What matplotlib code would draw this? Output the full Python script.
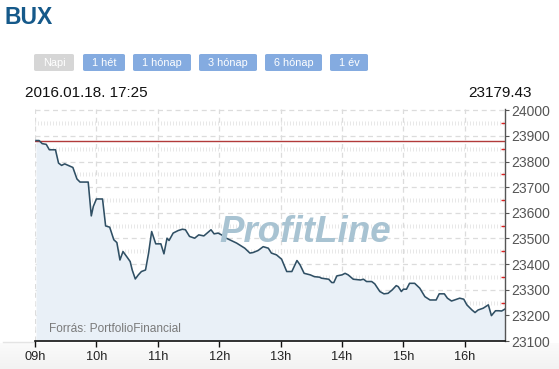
import numpy as np
import matplotlib
matplotlib.use("Agg")
import matplotlib.pyplot as plt
from matplotlib.patches import FancyBboxPatch

plt.rcParams['font.family'] = ['Liberation Sans', 'DejaVu Sans']

# ---- data ----
title = "BUX"
buttons = ["Napi", "1 hét", "1 hónap", "3 hónap", "6 hónap", "1 év"]
timestamp = "2016.01.18. 17:25"
last_value = "23179.43"
source = "Forrás: PortfolioFinancial"
watermark = "ProfitLine"
prev_close = 23882

# minutes after 09:00
minutes = [1, 4, 7, 11, 14, 20, 23, 26, 29, 33, 37, 41, 44, 52, 55, 57, 60, 66, 69, 73,
           77, 80, 83, 86, 90, 93, 95, 98, 101, 104, 108, 111, 114, 118, 123, 126, 129,
           131, 135, 140, 144, 147, 151, 156, 160, 165, 172, 175, 179, 185, 187, 197,
           205, 210, 213, 218, 223, 228, 231, 236, 241, 246, 251, 256, 259, 263, 269,
           273, 278, 280, 287, 290, 292, 295, 300, 303, 306, 311, 318, 321, 324, 329,
           332, 337, 341, 345, 349, 353, 355, 358, 360, 363, 366, 371, 376, 381, 386,
           392, 395, 400, 403, 407, 410, 415, 419, 422, 427, 430, 433, 438, 443, 446,
           450, 453, 456, 459]
values = [23882, 23882, 23870, 23867, 23846, 23846, 23794, 23785, 23791, 23784, 23777,
          23732, 23720, 23720, 23588, 23625, 23654, 23654, 23549, 23544, 23495, 23484,
          23416, 23449, 23427, 23410, 23377, 23342, 23358, 23371, 23377, 23443, 23527,
          23479, 23479, 23440, 23501, 23492, 23521, 23531, 23536, 23534, 23508, 23501,
          23514, 23510, 23534, 23518, 23521, 23508, 23501, 23482, 23462, 23443, 23445,
          23453, 23468, 23462, 23443, 23436, 23419, 23371, 23371, 23414, 23397, 23364,
          23358, 23351, 23349, 23345, 23341, 23328, 23328, 23354, 23358, 23364, 23358,
          23341, 23338, 23341, 23332, 23332, 23323, 23293, 23284, 23286, 23299, 23316,
          23312, 23293, 23302, 23302, 23325, 23325, 23306, 23273, 23260, 23260, 23284,
          23284, 23267, 23256, 23260, 23267, 23263, 23241, 23221, 23211, 23221, 23228,
          23241, 23199, 23218, 23218, 23217, 23224]
hour_ticks = [9, 10, 11, 12, 13, 14, 15, 16]
hour_labels = ["09h", "10h", "11h", "12h", "13h", "14h", "15h", "16h"]
y_ticks = [23100, 23200, 23300, 23400, 23500, 23600, 23700, 23800, 23900, 24000]

W, H = 559, 369
fig = plt.figure(figsize=(W / 100, H / 100), dpi=100)
fig.patch.set_facecolor("white")

def fx(px):
    return px / W

def fy(py):
    return 1 - py / H

# bottom light background gradient
bg = fig.add_axes([0, 0, 1, fy(343)], zorder=0)
grad = np.linspace(1, 0, 50).reshape(-1, 1)
bg.imshow(grad, aspect="auto", cmap=matplotlib.colors.LinearSegmentedColormap.from_list(
    "g", ["#f2f2f2", "#fbfbfb"]), extent=[0, 1, 0, 1])
bg.axis("off")
fig.add_artist(matplotlib.lines.Line2D([fx(3), fx(35)], [fy(341.5), fy(341.5)],
                                       color="#e4e4e4", lw=1, transform=fig.transFigure))

# main axes
ax = fig.add_axes([fx(35), fy(341), fx(504.5) - fx(35), fy(109) - fy(341)], zorder=2)
ax.set_facecolor("white")
x = 9 + np.array(minutes) / 60.0
y = np.array(values)

ax.set_xlim(9, 9 + (504.5 - 35) / 61.4)
ax.set_ylim(23100, 24005)

# grid
for t in hour_ticks:
    ax.axvline(t, color="#dcdcdc", lw=0.9, ls=(0, (4, 3)), zorder=1)
for v in y_ticks[1:]:
    ax.axhline(v, color="#dcdcdc", lw=0.9, ls=(0, (4, 3)), zorder=1)
xs = np.arange(9.0, 16.7, 3 / 61.4)
for v in np.arange(23150, 24000, 100):
    ax.plot(xs, np.full_like(xs, v), ls="none", marker="|", ms=3.5, mew=0.7,
            color="#e8e8e8", zorder=1)

ax.fill_between(x, y, 23100, color="#e9f0f7", zorder=2, lw=0)
ax.axhline(prev_close, color="#b23a3a", lw=1.0, zorder=3)
ax.plot(x, y, color="#2f4f64", lw=1.15, zorder=4)

wm = ax.text(0, 0, watermark, fontsize=26.5, fontweight="bold",
             fontstyle="italic", color="#a8c3d2", zorder=5)
wm.set_transform(matplotlib.transforms.IdentityTransform())
wm.set_position((219, H - 242))

ax.text(0.03, 0.04, source, transform=ax.transAxes, fontsize=8.6, color="#7a7a7a",
        zorder=5)

# axes style
for s in ["top", "left"]:
    ax.spines[s].set_visible(False)
ax.spines["bottom"].set_color("#111111")
ax.spines["bottom"].set_linewidth(1.2)
ax.spines["right"].set_color("#555555")
ax.spines["right"].set_linewidth(1.0)
ax.yaxis.tick_right()
ax.set_yticks(y_ticks)
ax.set_yticklabels([str(v) for v in y_ticks], fontsize=10, color="#555555")
ax.set_yticks(np.arange(23150, 24000, 100), minor=True)
ax.tick_params(axis="y", which="major", direction="out", length=3, color="#555555", pad=2)
ax.tick_params(axis="y", which="minor", direction="in", length=3, color="#dd2222", width=1)
ax.set_xticks(hour_ticks)
ax.set_xticklabels(hour_labels, fontsize=9.2, color="#222222")
ax.tick_params(axis="x", direction="out", length=4, color="#111111", width=1, pad=3)

# title
fig.text(fx(5), fy(24), title, fontsize=16.5, fontweight="bold", color="#15598a",
         va="baseline", ha="left")

# buttons
btn_x = [(34, 74), (83, 125), (133, 191), (199, 257), (265, 322), (330, 368)]
for i, (lbl, (x0, x1)) in enumerate(zip(buttons, btn_x)):
    col = "#d6d6d6" if i == 0 else "#84abe0"
    p = FancyBboxPatch((fx(x0), fy(71)), fx(x1 - x0), fy(54) - fy(71),
                       boxstyle="round,pad=0,rounding_size=0.004",
                       transform=fig.transFigure, facecolor=col, edgecolor="none")
    fig.add_artist(p)
    fig.text(fx((x0 + x1) / 2), fy(62.5), lbl, fontsize=7.8, color="white",
             ha="center", va="center")

fig.text(fx(25), fy(97), timestamp, fontsize=11, color="#111111", va="baseline")
fig.text(fx(532), fy(97), last_value, fontsize=11, color="#111111", va="baseline",
         ha="right")

fig.savefig("out.png", dpi=100, facecolor="white")
